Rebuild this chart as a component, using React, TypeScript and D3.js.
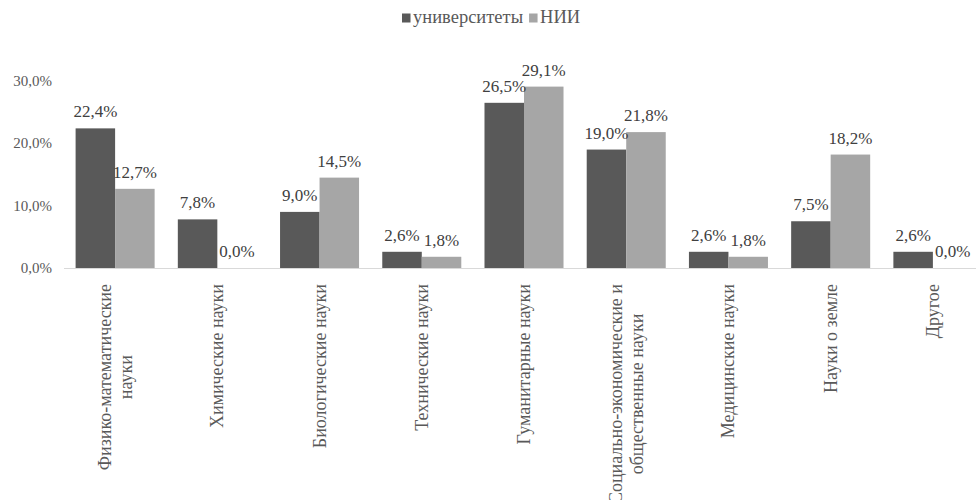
import React, { useEffect, useRef } from "react";
import * as d3 from "d3";

const categories = [
  ["Физико-математические", "науки"],
  ["Химические науки"],
  ["Биологические науки"],
  ["Технические науки"],
  ["Гуманитарные науки"],
  ["Социально-экономические и", "общественные науки"],
  ["Медицинские науки"],
  ["Науки о земле"],
  ["Другое"],
];
const seriesNames = ["университеты", "НИИ"];
const universities = [22.4, 7.8, 9.0, 2.6, 26.5, 19.0, 2.6, 7.5, 2.6];
const institutes = [12.7, 0.0, 14.5, 1.8, 29.1, 21.8, 1.8, 18.2, 0.0];
const yTicks = [0, 10, 20, 30];

const colors = ["#595959", "#a6a6a6"];
const font = "Liberation Serif, serif";
const fmt = (v: number) => d3.format(".1f")(v).replace(".", ",") + "%";

const App = () => {
  const ref = useRef<SVGSVGElement>(null);

  useEffect(() => {
    const width = 976;
    const height = 500;
    const svg = d3.select(ref.current).attr("width", width).attr("height", height)
      .style("font-family", font);
    svg.selectAll("*").remove();

    const keys = categories.map((c) => c.join(" "));
    const x = d3.scaleBand().domain(keys).range([64, 984]).paddingInner(0.227).paddingOuter(0.1135);
    const x1 = d3.scaleBand().domain(seriesNames).range([0, x.bandwidth()]);
    const y = d3.scaleLinear().domain([0, 30]).range([268, 81]);

    // y tick labels
    svg.append("g")
      .selectAll("text")
      .data(yTicks)
      .enter()
      .append("text")
      .attr("x", 52)
      .attr("y", (d) => y(d) + 5)
      .attr("text-anchor", "end")
      .attr("font-size", 15)
      .attr("fill", "#595959")
      .text((d) => fmt(d));

    const rows = keys.map((k, i) => ({ key: k, values: [universities[i], institutes[i]] }));

    const groups = svg.append("g")
      .selectAll("g")
      .data(rows)
      .enter()
      .append("g")
      .attr("transform", (d) => `translate(${x(d.key)},0)`);

    groups.selectAll("rect")
      .data((d) => d.values.map((v, j) => ({ v, s: seriesNames[j], j })))
      .enter()
      .append("rect")
      .attr("x", (d) => x1(d.s)!)
      .attr("width", x1.bandwidth())
      .attr("y", (d) => y(d.v))
      .attr("height", (d) => y(0) - y(d.v))
      .attr("fill", (d) => colors[d.j]);

    groups.selectAll("text.val")
      .data((d) => d.values.map((v, j) => ({ v, s: seriesNames[j], j })))
      .enter()
      .append("text")
      .attr("class", "val")
      .attr("x", (d) => x1(d.s)! + x1.bandwidth() / 2)
      .attr("y", (d) => y(d.v) - 11)
      .attr("text-anchor", "middle")
      .attr("font-size", 17)
      .attr("fill", "#404040")
      .text((d) => fmt(d.v));

    // x axis line
    svg.append("line")
      .attr("x1", 64)
      .attr("x2", width)
      .attr("y1", y(0) + 0.5)
      .attr("y2", y(0) + 0.5)
      .attr("stroke", "#d9d9d9");

    // rotated category labels
    categories.forEach((lines, i) => {
      const cx = x(keys[i])! + x.bandwidth() / 2;
      const g = svg.append("g").attr("transform", `translate(${cx},284) rotate(-90)`);
      const texts = lines.map((l, k) =>
        g.append("text")
          .attr("font-size", 18)
          .attr("fill", "#595959")
          .attr("text-anchor", "middle")
          .attr("y", (k - (lines.length - 1) / 2) * 21 + 6)
          .text(l)
      );
      const maxLen = d3.max(texts, (t) => (t.node() as SVGTextElement).getComputedTextLength()) || 0;
      texts.forEach((t) => t.attr("x", -maxLen / 2));
    });

    // legend
    const legend = svg.append("g").attr("transform", "translate(402,23)");
    let lx = 0;
    seriesNames.forEach((name, j) => {
      legend.append("rect")
        .attr("x", lx)
        .attr("y", -9.5)
        .attr("width", 8.5)
        .attr("height", 9)
        .attr("fill", colors[j]);
      const t = legend.append("text")
        .attr("x", lx + 11)
        .attr("y", 0)
        .attr("font-size", 18.5)
        .attr("fill", "#595959")
        .text(name);
      lx += 11 + (t.node() as SVGTextElement).getComputedTextLength() + 6;
    });
  }, []);

  return <svg ref={ref} style={{ position: "absolute", left: 0, top: 0 }}></svg>;
};

export default App;
